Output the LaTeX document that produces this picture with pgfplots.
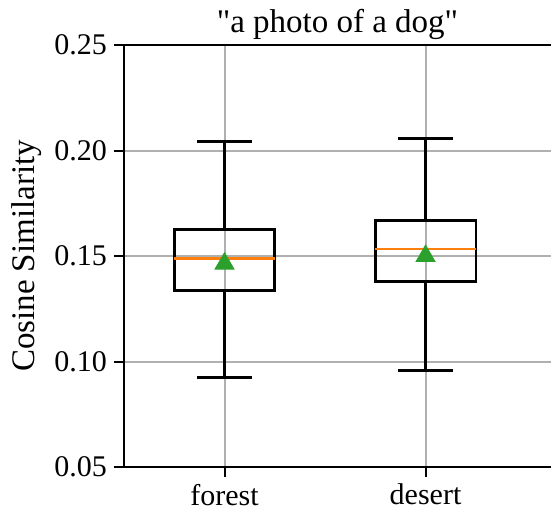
\documentclass[border=0pt]{standalone}
\usepackage{pgfplots}
\pgfplotsset{compat=1.18}
\usepackage{fontspec}
\setmainfont{Liberation Serif}
\newfontfamily\plainserif{Liberation Serif}[Ligatures=Common]
\definecolor{mplorange}{HTML}{FF7F0E}
\definecolor{mplgreen}{HTML}{2CA02C}
\definecolor{gridgray}{HTML}{B0B0B0}
\begin{document}
\begin{tikzpicture}
\begin{axis}[
  scale only axis,
  width=213.5pt, height=211pt,
  xmin=0.5, xmax=2.624,
  ymin=0.05, ymax=0.25,
  axis x line=box, axis y line=left,
  axis line style={-, line width=1pt, black},
  xtick={1,2}, xticklabels={forest,desert},
  ytick={0.05,0.10,0.15,0.20,0.25},
  xtick pos=bottom, ytick pos=left,
  tick align=outside,
  major tick length=5pt,
  every tick/.style={black, line width=1pt},
  /pgf/number format/assume math mode=true,
  yticklabel style={/pgf/number format/fixed, /pgf/number format/fixed zerofill, /pgf/number format/precision=2},
  every tick label/.append style={font=\plainserif\fontsize{15}{18}\selectfont},
  grid=major,
  grid style={color=gridgray, line width=1pt},
  title={"a photo of a dog"},
  every axis title/.style={font=\plainserif\fontsize{16.5}{20}\selectfont, at={(axis description cs:0.5,1)}, anchor=base, yshift=6pt},
  ylabel={Cosine Similarity},
  every axis y label/.style={at={(axis description cs:-0.228,0.5)}, rotate=90, anchor=center, font=\plainserif\fontsize{16.5}{20}\selectfont},
  clip=false,
]
% forest
\addplot[black, line width=1.3pt] coordinates {(1,0.0925) (1,0.1337)};
\addplot[black, line width=1.3pt] coordinates {(1,0.1627) (1,0.2042)};
\addplot[black, line width=1.3pt] coordinates {(0.865,0.0925) (1.135,0.0925)};
\addplot[black, line width=1.3pt] coordinates {(0.865,0.2042) (1.135,0.2042)};
\addplot[black, line width=1.3pt] coordinates {(0.75,0.1337) (1.25,0.1337) (1.25,0.1627) (0.75,0.1627) (0.75,0.1337)} -- cycle;
\addplot[mplorange, line width=1.3pt] coordinates {(0.75,0.1487) (1.25,0.1487)};
% desert
\addplot[black, line width=1.3pt] coordinates {(2,0.0956) (2,0.1380)};
\addplot[black, line width=1.3pt] coordinates {(2,0.1667) (2,0.2058)};
\addplot[black, line width=1.3pt] coordinates {(1.865,0.0956) (2.135,0.0956)};
\addplot[black, line width=1.3pt] coordinates {(1.865,0.2058) (2.135,0.2058)};
\addplot[black, line width=1.3pt] coordinates {(1.75,0.1380) (2.25,0.1380) (2.25,0.1667) (1.75,0.1667) (1.75,0.1380)} -- cycle;
\addplot[mplorange, line width=1.3pt] coordinates {(1.75,0.1533) (2.25,0.1533)};
% means
\addplot[only marks, mark=triangle*, mark size=5.5pt, color=mplgreen, mark options={yshift=-1.4pt, fill=mplgreen, draw=mplgreen}] coordinates {(1,0.1477) (2,0.1513)};
\end{axis}
\pgfresetboundingbox
\useasboundingbox ([xshift=-62pt,yshift=-23.5pt]current axis.south west) rectangle ([yshift=22.5pt]current axis.north east);
\end{tikzpicture}
\end{document}
